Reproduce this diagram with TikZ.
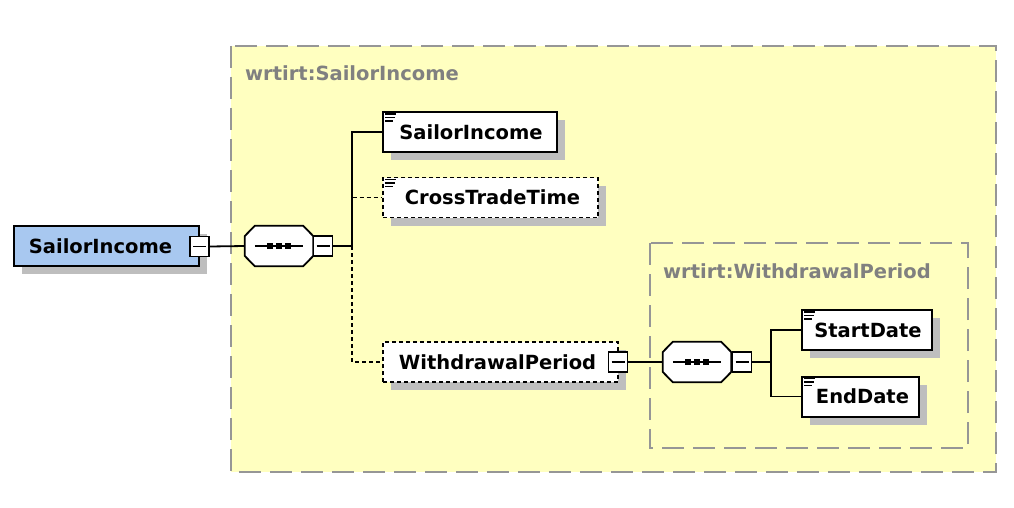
\documentclass[tikz,border=0pt]{standalone}
\usepackage{fontspec}
\setmainfont{DejaVu Sans}
\usetikzlibrary{shadows}
\definecolor{boxyellow}{RGB}{255,255,192}
\definecolor{rootblue}{RGB}{168,200,240}
\definecolor{shadowgray}{RGB}{190,190,190}
\definecolor{framegray}{RGB}{150,150,150}
\definecolor{labelgray}{RGB}{128,128,128}
\tikzset{
  txt/.style={font=\fontsize{19.5}{23}\selectfont\bfseries},
  shad/.style={drop shadow={shadow xshift=8pt,shadow yshift=-8pt,fill=shadowgray,opacity=1}},
  elem/.style={txt,draw=black,line width=2pt,fill=white,shad,minimum height=40pt,inner sep=0pt},
  optelem/.style={elem,line width=1.8pt,dash pattern=on 4pt off 3pt},
  minusbox/.style={draw=black,line width=1.8pt,fill=white,minimum width=19pt,minimum height=20pt,inner sep=0pt,
    path picture={\draw[line width=1.8pt] ([xshift=3pt]path picture bounding box.west) -- ([xshift=-3pt]path picture bounding box.east);}},
  groupbox/.style={draw=framegray,line width=2pt,dash pattern=on 22pt off 9pt},
  grouplabel/.style={txt,text=labelgray,anchor=west,inner sep=0pt},
  conn/.style={line width=1.8pt},
  optconn/.style={conn,dash pattern=on 4pt off 3pt},
}
\newcommand{\docicon}[1]{%
  \draw[line width=1.6pt] ([xshift=3pt,yshift=-3pt]#1.north west) -- ++(11pt,0)
    ([xshift=3pt,yshift=-6.5pt]#1.north west) -- ++(10pt,0)
    ([xshift=3pt,yshift=-10pt]#1.north west) -- ++(8pt,0);}
\newcommand{\octpath}[1]{([yshift=10pt]#1.west) -- ([xshift=10pt]#1.north west) -- ([xshift=-10pt]#1.north east) -- ([yshift=10pt]#1.east)
    -- ([yshift=-10pt]#1.east) -- ([xshift=-10pt]#1.south east) -- ([xshift=10pt]#1.south west) -- ([yshift=-10pt]#1.west) -- cycle}
\newcommand{\seqshape}[3]{% name, center x, center y
  \node[minimum width=68pt,minimum height=40pt,inner sep=0pt] (#1) at (#2,#3) {};
  \fill[shadowgray,shift={(8pt,-8pt)}] \octpath{#1};
  \filldraw[fill=white,draw=black,line width=1.8pt] \octpath{#1};
  \draw[line width=1.8pt] ([xshift=10pt]#1.west) -- ([xshift=-10pt]#1.east);
  \foreach \dx in {-9,0,9} \fill ([xshift=\dx pt]#1.center) +(-3pt,-3pt) rectangle +(3pt,3pt);
}
\begin{document}
\begin{tikzpicture}[x=1pt,y=1pt]
\useasboundingbox (0,0) rectangle (1014,-508);
% outer group
\fill[boxyellow] (231,-46) rectangle (996,-472);
\draw[groupbox] (231,-46) rectangle (996,-472);
\node[grouplabel] (glab1) at (245,-73) {wrtirt:SailorIncome};
% inner group
\draw[groupbox] (650,-243) rectangle (968,-448);
\node[grouplabel] (glab2) at (663,-271) {wrtirt:WithdrawalPeriod};

% root
\node[elem,fill=rootblue,minimum width=185pt] (root) at (106.5,-246) {\hspace*{-12pt}SailorIncome};
\node[minusbox] (rootm) at (199.5,-246.5) {};

% sequence 1
\seqshape{seq1}{279}{-246}
\node[minusbox] (seq1m) at (323,-246) {};
\coordinate (br1) at (352,-246);

% elements
\node[elem,minimum width=174pt] (si) at (470,-132) {\hspace*{2pt}SailorIncome};
\docicon{si}
\node[optelem,minimum width=215pt] (ctt) at (490.5,-197.5) {\hspace*{4pt}CrossTradeTime};
\docicon{ctt}
\node[optelem,minimum width=235pt] (wp) at (500.5,-362) {\hspace*{-6pt}WithdrawalPeriod};
\node[minusbox] (wpm) at (618,-362) {};

% sequence 2
\seqshape{seq2}{697}{-362}
\node[minusbox] (seq2m) at (742,-362) {};
\coordinate (br2) at (771,-362);

\node[elem,minimum width=130pt] (sd) at (867,-330) {\hspace*{2pt}StartDate};
\docicon{sd}
\node[elem,minimum width=117pt] (ed) at (860.5,-396.5) {\hspace*{4pt}EndDate};
\docicon{ed}

% connectors
\draw[conn] (rootm.east) -- (seq1.west);
\draw[conn] (seq1m.east) -- (br1);
\draw[optconn] (br1) |- (ctt.west);
\draw[optconn] (br1) |- (wp.west);
\draw[conn] (br1) |- (si.west);
\draw[conn] (wpm.east) -- (seq2.west);
\draw[conn] (seq2m.east) -- (br2);
\draw[conn] (br2) |- (sd.west);
\draw[conn] (br2) |- (ed.west);
\end{tikzpicture}
\end{document}
